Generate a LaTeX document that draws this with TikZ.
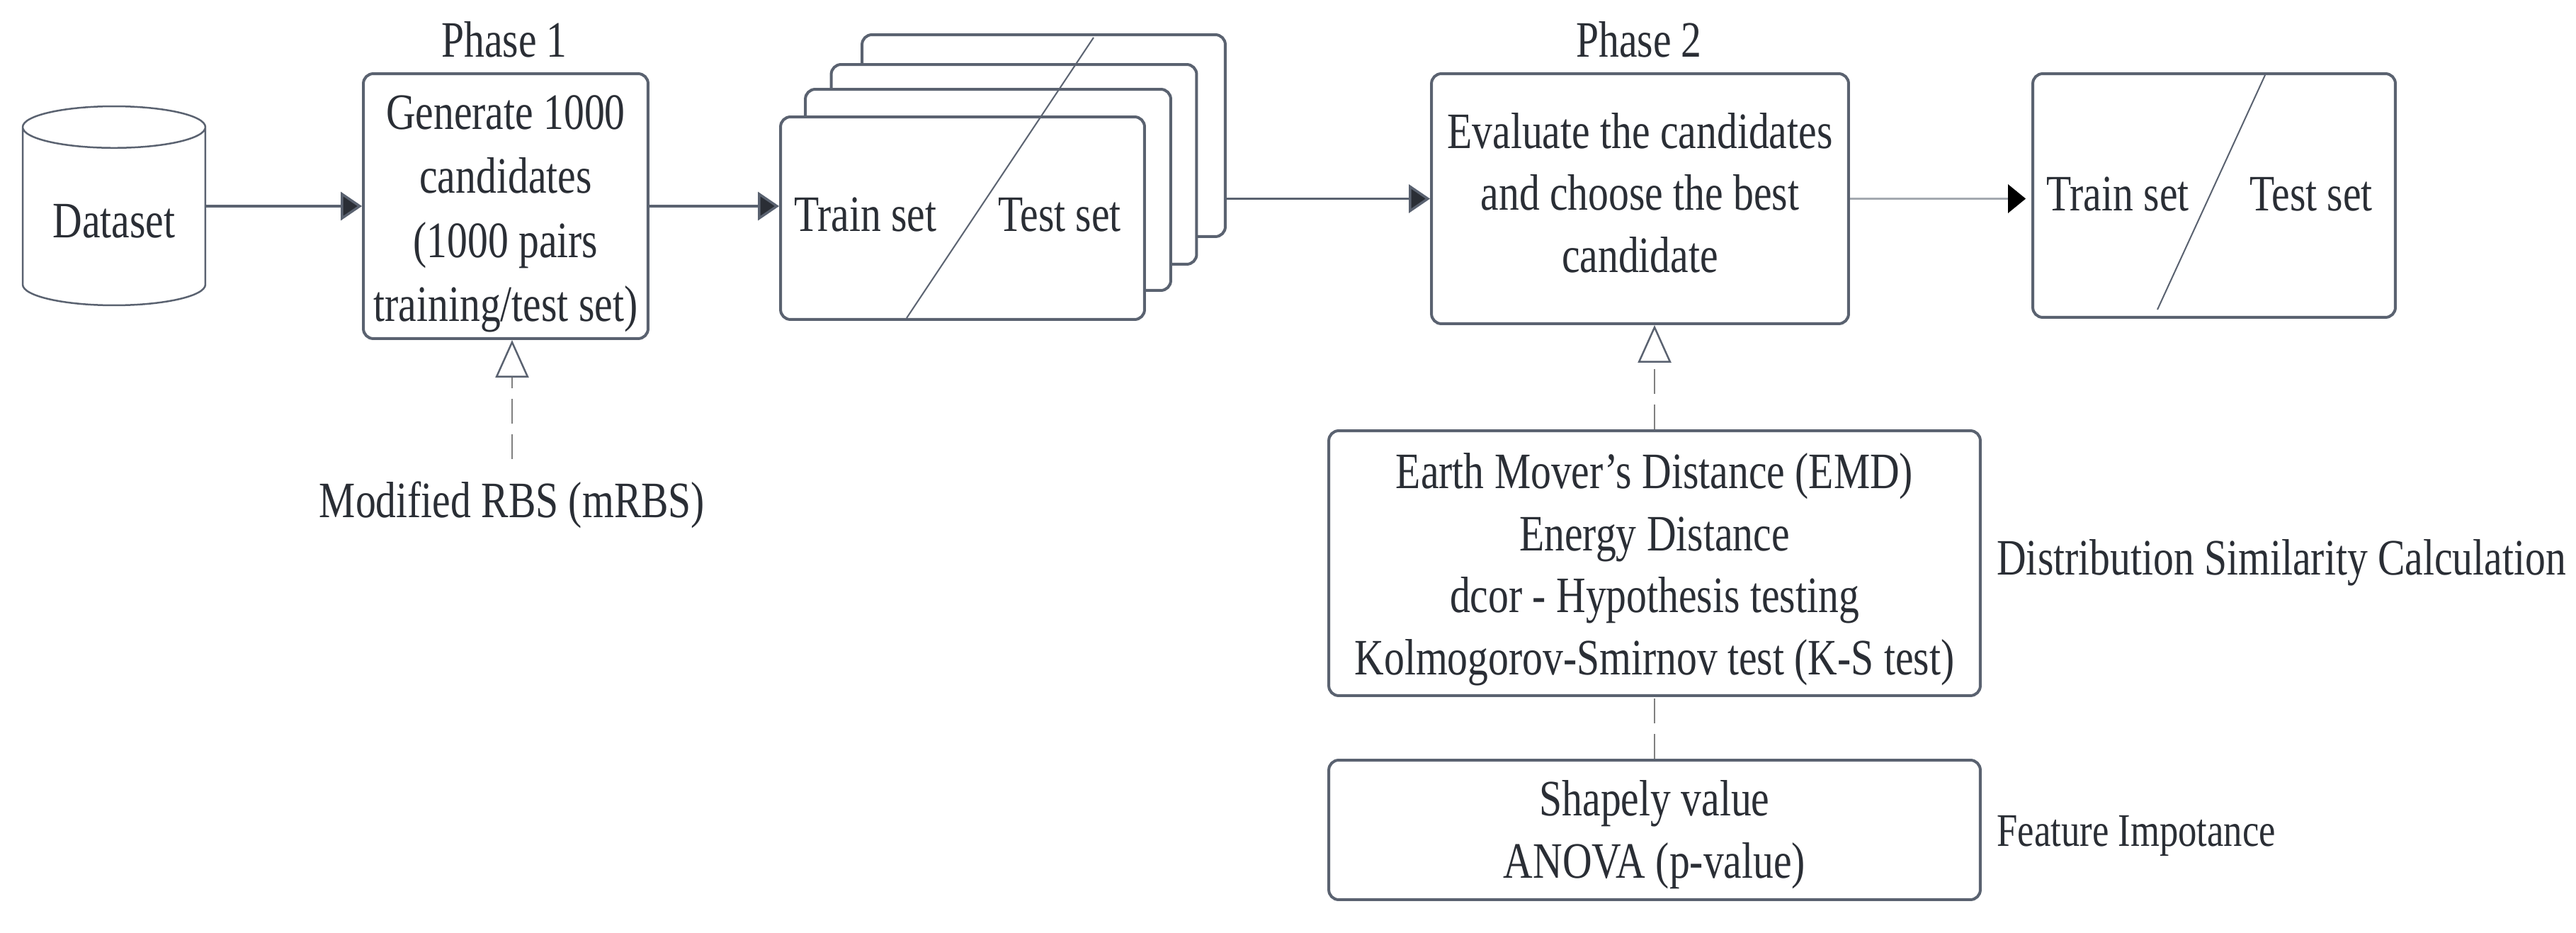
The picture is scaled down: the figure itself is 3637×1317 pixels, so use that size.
\documentclass[tikz,border=0pt]{standalone}
\usepackage{fontspec}
\setmainfont[FakeStretch=0.8]{Liberation Serif}
\usetikzlibrary{arrows.meta,calc,shapes.geometric}
\definecolor{edge}{HTML}{5A6270}
\definecolor{ink}{HTML}{2A2E35}
\newcommand\dnstrut[1]{\rule{0pt}{#1}}
\newcommand\upstrut[1]{\rule[-#1]{0pt}{0pt}}
\tikzset{
  x=0.02cm,y=-0.02cm,
  every node/.style={text=ink,font=\fontsize{41pt}{50pt}\selectfont},
  card/.style={draw=edge,line width=0.08cm,rounded corners=0.28cm,fill=white,inner sep=0pt,align=center},
  plain/.style={inner sep=0pt,align=center},
  small/.style={plain,font=\fontsize{37.5pt}{42pt}\selectfont},
  flow/.style={draw=edge,line width=0.07cm,-{Triangle[length=0.6cm,width=0.8cm,fill=ink]}},
  flowlight/.style={draw=edge!55,line width=0.07cm,-{Triangle[length=0.5cm,width=0.8cm,color=black]}},
  uses/.style={draw=gray,line width=0.04cm,dash pattern=on 0.7cm off 0.3cm,-{Triangle[open,length=1.06cm,width=0.94cm,color=edge,line width=0.05cm]}},
  link/.style={draw=gray,line width=0.04cm,dash pattern=on 0.7cm off 0.3cm},
  slash/.style={draw=edge,line width=0.04cm},
}
\begin{document}
\begin{tikzpicture}
\useasboundingbox (0,0) rectangle (3637,1317);
% dataset
\node[cylinder,shape border rotate=90,draw=edge,line width=0.05cm,aspect=0.34,minimum width=5.16cm,minimum height=5.62cm,inner sep=0pt,fill=white,anchor=shape center] (data) at (161,290.5) {\dnstrut{1.2cm}Dataset};
% phase 1
\node[plain] (ph1) at (712,56) {Phase 1};
\node[card,minimum width=8.04cm,minimum height=7.48cm,font=\fontsize{41pt}{51.5pt}\selectfont] (b1) at (714,291) {\dnstrut{1.4cm}Generate 1000\\candidates\\(1000 pairs\\training/test set)};
\coordinate (mtop) at (723,648);
\node[plain] (mrbs) at (723,713) {Modified RBS (mRBS)};
% stack
\node[card,minimum width=10.26cm,minimum height=5.7cm] (c4) at (1473.5,191.5) {};
\node[card,minimum width=10.32cm,minimum height=5.64cm] (c3) at (1431.5,232) {};
\node[card,minimum width=10.32cm,minimum height=5.68cm] (c2) at (1395,268) {};
\node[card,minimum width=10.28cm,minimum height=5.72cm] (c1) at (1359,308) {};
\coordinate (s1) at (1544,53);
\coordinate (s2) at (1280,449);
\draw[slash] (s1) -- (s2);
\node[plain] (tr1) at (1222,303) {Train set};
\node[plain] (te1) at (1496,303) {Test set};
% phase 2
\node[plain] (ph2) at (2314,56) {Phase 2};
\node[card,minimum width=11.78cm,minimum height=7.06cm] (b2) at (2315.5,280.5) {Evaluate the candidates\\and choose the best\\candidate\upstrut{0.34cm}};
% result
\node[card,minimum width=10.24cm,minimum height=6.88cm] (b3) at (3126,276) {};
\coordinate (r1) at (3198,106);
\coordinate (r2) at (3046,437);
\draw[slash] (r1) -- (r2);
\node[plain] (tr2) at (2990,274) {Train set};
\node[plain] (te2) at (3263,274) {Test set};
% metrics
\node[card,minimum width=18.4cm,minimum height=7.48cm] (b4) at (2336,795) {\dnstrut{1.35cm}Earth Mover's Distance (EMD)\\Energy Distance\\dcor - Hypothesis testing\\Kolmogorov-Smirnov test (K-S test)};
\node[card,minimum width=18.4cm,minimum height=3.94cm] (b5) at (2336,1171.5) {\dnstrut{1.25cm}Shapely value\\ANOVA (p-value)};
\node[plain,anchor=west] (dist) at (2819,794) {Distribution Similarity Calculation};
\node[small,anchor=west] (feat) at (2819,1180) {Feature Impotance};
% connectors
\draw[flow] (b1.west -| data.east) -- (b1.west);
\draw[flow] (b1.east) -- (b1.east -| c1.west);
\draw[flow] (c4.east |- b2.west) -- (b2.west);
\draw[flowlight] (b2.east) -- ($(b2.east -| b3.west)+(-8,0)$);
\draw[uses] (mtop) -- (mtop |- b1.south);
\draw[uses] (b4.north) -- (b4.north |- b2.south);
\draw[link] (b5.north) -- (b4.south);
\end{tikzpicture}
\end{document}
